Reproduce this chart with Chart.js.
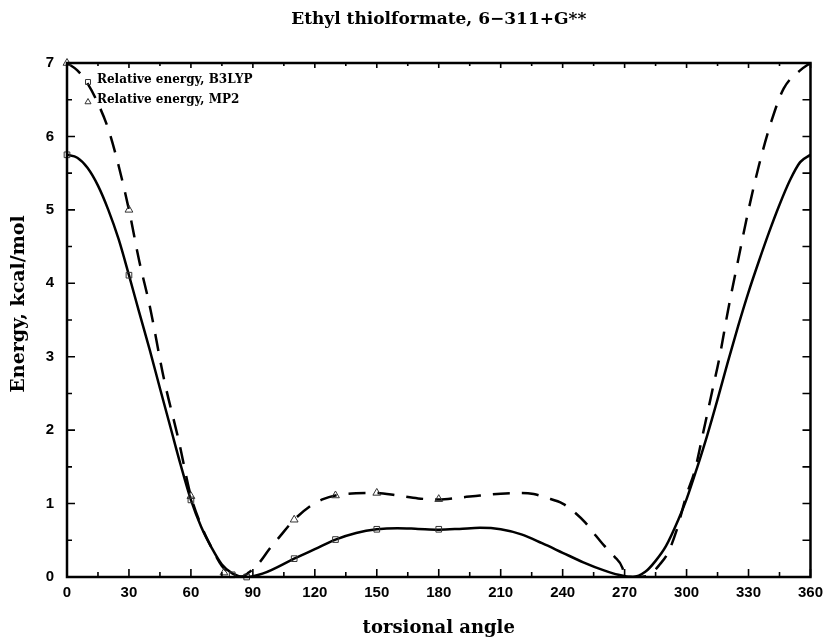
<!DOCTYPE html>
<html>
<head>
<meta charset="utf-8">
<title>Ethyl thiolformate, 6-311+G**</title>
<script src="https://cdn.jsdelivr.net/npm/chart.js@4.4.0/dist/chart.umd.min.js"></script>
<style>
  html, body { margin: 0; padding: 0; background: #fff; }
  #wrap { width: 830px; height: 640px; }
</style>
</head>
<body>
<div id="wrap"><canvas id="energyChart" width="830" height="640"></canvas></div>
<script>
// Texts and axis ticks
const chartTitle = 'Ethyl thiolformate, 6\u2212311+G**';
const yTitle = 'Energy, kcal/mol';
const xTitle = 'torsional angle';
const xTicks = [0, 30, 60, 90, 120, 150, 180, 210, 240, 270, 300, 330, 360];
const yTicks = [0, 1, 2, 3, 4, 5, 6, 7];

// Fitted curves
const b3lypCurveAngles = [0, 5, 10, 15, 20, 25, 30, 35, 40, 45, 50, 55, 60, 65, 70, 75, 80, 86, 95, 110, 120,
    130, 140, 150, 160, 170, 180, 190, 200, 210, 220, 230, 240, 250, 260, 267, 274, 280, 285, 290, 296, 300,
    305, 310, 315, 320, 325, 330, 335, 340, 345, 350, 355, 360];
const b3lypCurve = [5.75, 5.71, 5.57, 5.33, 5.0, 4.6, 4.11, 3.6, 3.1, 2.57, 2.05, 1.53, 1.05, 0.68, 0.4, 0.17,
    0.05, 0.0, 0.05, 0.25, 0.38, 0.51, 0.6, 0.65, 0.665, 0.655, 0.645, 0.655, 0.67, 0.65, 0.58, 0.46, 0.33,
    0.2, 0.09, 0.03, 0.0, 0.07, 0.22, 0.42, 0.78, 1.06, 1.48, 1.93, 2.42, 2.93, 3.42, 3.88, 4.3, 4.7, 5.07,
    5.4, 5.65, 5.75];

const mp2CurveAngles = [0, 5, 10, 15, 20, 25, 30, 35, 40, 47, 54, 60, 65, 70, 75, 80, 84, 88, 93, 98, 103, 110,
    118, 124, 130, 140, 150, 160, 170, 180, 190, 200, 210, 220, 226, 232, 240, 245, 251, 255, 260, 265, 269,
    270, 276, 282, 287, 291, 295, 300, 304, 308, 312, 316, 320, 325, 330, 335, 341, 347, 355, 360];
const mp2Curve = [7.0, 6.9, 6.72, 6.45, 6.1, 5.6, 5.0, 4.3, 3.7, 2.69, 1.87, 1.1, 0.7, 0.4, 0.15, 0.03, 0.0,
    0.06, 0.19, 0.38, 0.55, 0.78, 0.97, 1.06, 1.11, 1.14, 1.145, 1.11, 1.07, 1.055, 1.08, 1.11, 1.135, 1.145,
    1.13, 1.08, 1.0, 0.9, 0.74, 0.6, 0.43, 0.28, 0.12, 0.0, 0.0, 0.03, 0.17, 0.33, 0.62, 1.12, 1.45, 1.96,
    2.48, 3.0, 3.62, 4.32, 5.0, 5.6, 6.2, 6.65, 6.9, 7.0];

// Computed points (markers)
const b3lypPointAngles = [0, 30, 60, 80, 87, 110, 130, 150, 180];
const b3lypPointValues = [5.75, 4.11, 1.05, 0.03, 0.0, 0.25, 0.51, 0.65, 0.65];
const mp2PointAngles = [0, 30, 60, 76, 110, 130, 150, 180];
const mp2PointValues = [7.0, 5.0, 1.1, 0.06, 0.78, 1.11, 1.145, 1.06];

const toXY = (xs, ys) => xs.map((x, i) => ({ x: x, y: ys[i] }));

const serifBold = (size) => ({ family: '"DejaVu Serif", serif', size: size, weight: 'bold' });
const sansBold = { family: '"Liberation Sans", Arial, sans-serif', size: 15, weight: 'bold' };

/**
 * Frame round the plot, ticks pointing inwards on all four sides
 */
const frameTicks = {
    id: 'frameTicks',
    afterDatasetsDraw(chart) {
        const { ctx, chartArea: a, scales: { x, y } } = chart;
        const xAll = [], yAll = [];
        xTicks.forEach((v, i) => {
            xAll.push([v, true]);
            if (i < xTicks.length - 1) xAll.push([(v + xTicks[i + 1]) / 2, false]);
        });
        yTicks.forEach((v, i) => {
            yAll.push([v, true]);
            if (i < yTicks.length - 1) yAll.push([(v + yTicks[i + 1]) / 2, false]);
        });

        ctx.save();
        ctx.strokeStyle = '#000';
        ctx.lineWidth = 1.6;
        ctx.beginPath();
        xAll.forEach(([v, major]) => {
            const px = x.getPixelForValue(v);
            ctx.moveTo(px, a.bottom);
            ctx.lineTo(px, a.bottom - (major ? 8 : 5));
            ctx.moveTo(px, a.top);
            ctx.lineTo(px, a.top + (major ? 5 : 3));
        });
        yAll.forEach(([v, major]) => {
            const py = y.getPixelForValue(v);
            ctx.moveTo(a.left, py);
            ctx.lineTo(a.left + (major ? 8 : 5), py);
            ctx.moveTo(a.right, py);
            ctx.lineTo(a.right - 8, py);
        });
        ctx.stroke();

        ctx.lineWidth = 2.5;
        ctx.strokeRect(a.left, a.top, a.right - a.left, a.bottom - a.top);
        ctx.restore();
    }
};

/**
 * Title above the plot and the y axis title
 */
const outerTexts = {
    id: 'outerTexts',
    afterDraw(chart) {
        const { ctx, chartArea: a } = chart;
        ctx.save();
        ctx.fillStyle = '#000';
        ctx.textAlign = 'center';
        ctx.textBaseline = 'middle';
        ctx.font = 'bold 17px "DejaVu Serif", serif';
        ctx.fillText(chartTitle, (a.left + a.right) / 2, 20);

        ctx.translate(19, 304);
        ctx.rotate(-Math.PI / 2);
        ctx.font = 'bold 19px "DejaVu Serif", serif';
        ctx.fillText(yTitle, 0, 0);
        ctx.restore();
    }
};

/**
 * Legend drawn inside the plot, top left
 */
const innerLegend = {
    id: 'innerLegend',
    afterDraw(chart) {
        const { ctx, chartArea: a } = chart;
        const items = chart.data.datasets.filter(d => d.inLegend);
        ctx.save();
        ctx.font = 'bold 12px "DejaVu Serif", serif';
        ctx.textBaseline = 'middle';
        items.forEach((d, i) => {
            const yPos = a.top + 17 + i * 20;
            ctx.fillStyle = 'rgba(0,0,0,0)';
            ctx.strokeStyle = '#333';
            ctx.lineWidth = 1;
            Chart.helpers.drawPoint(ctx, { pointStyle: d.pointStyle, radius: 3.5, borderWidth: 1, rotation: 0 },
                a.left + 21, yPos + 2);
            ctx.fillStyle = '#000';
            ctx.fillText(d.label, a.left + 30, yPos);
        });
        ctx.restore();
    }
};

const chart = new Chart(document.getElementById('energyChart'), {
    type: 'line',
    data: {
        datasets: [
            {
                label: 'Relative energy, B3LYP',
                inLegend: true,
                data: toXY(b3lypPointAngles, b3lypPointValues),
                showLine: false,
                pointStyle: 'rect',
                pointRadius: 4,
                pointBorderWidth: 1,
                pointBorderColor: '#333',
                pointBackgroundColor: 'rgba(0,0,0,0)',
                clip: false
            },
            {
                label: 'Relative energy, MP2',
                inLegend: true,
                data: toXY(mp2PointAngles, mp2PointValues),
                showLine: false,
                pointStyle: 'triangle',
                pointRadius: 4.5,
                pointBorderWidth: 1,
                pointBorderColor: '#333',
                pointBackgroundColor: 'rgba(0,0,0,0)',
                clip: false
            },
            {
                label: 'B3LYP curve',
                data: toXY(b3lypCurveAngles, b3lypCurve),
                borderColor: '#000',
                borderWidth: 2.5,
                pointRadius: 0,
                cubicInterpolationMode: 'monotone'
            },
            {
                label: 'MP2 curve',
                data: toXY(mp2CurveAngles, mp2Curve),
                borderColor: '#000',
                borderWidth: 2.5,
                borderDash: [17, 12],
                pointRadius: 0,
                cubicInterpolationMode: 'monotone'
            }
        ]
    },
    options: {
        responsive: false,
        animation: false,
        layout: { padding: { left: 0, right: 17, top: 63, bottom: 0 } },
        plugins: {
            legend: { display: false },
            tooltip: { enabled: false },
            title: { display: false }
        },
        scales: {
            x: {
                type: 'linear',
                min: 0,
                max: 360,
                afterBuildTicks: s => { s.ticks = xTicks.map(v => ({ value: v })); },
                afterFit: s => { s.height = 63; },
                grid: { display: false, drawTicks: false },
                border: { display: false },
                ticks: { color: '#000', padding: 7, maxRotation: 0, autoSkip: false, font: sansBold },
                title: {
                    display: true,
                    text: xTitle,
                    color: '#000',
                    font: serifBold(18),
                    padding: { top: 0, bottom: 1 }
                }
            },
            y: {
                min: 0,
                max: 7,
                afterBuildTicks: s => { s.ticks = yTicks.map(v => ({ value: v })); },
                afterFit: s => { s.width = 67; },
                grid: { display: false, drawTicks: false },
                border: { display: false },
                ticks: { color: '#000', padding: 13, font: sansBold },
                title: { display: false }
            }
        }
    },
    plugins: [frameTicks, outerTexts, innerLegend]
});
</script>
</body>
</html>
